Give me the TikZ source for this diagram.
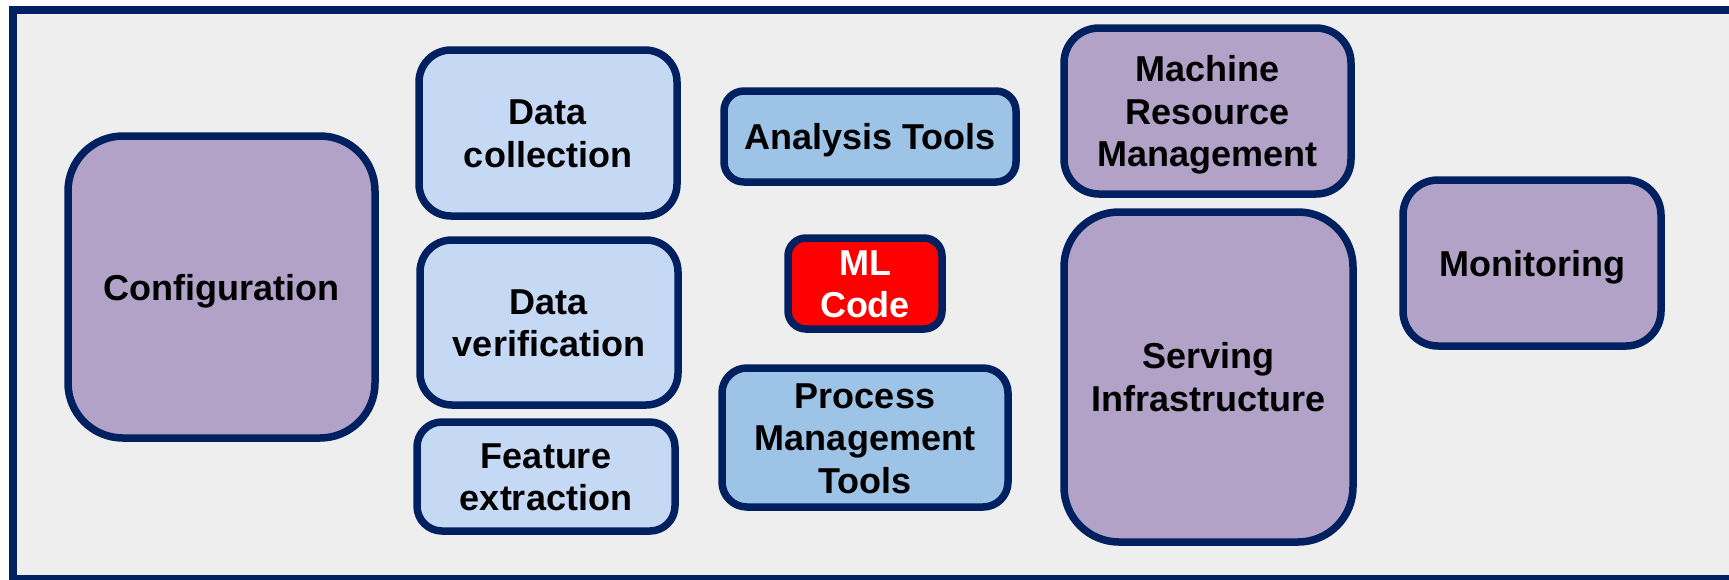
\documentclass[tikz,border=0pt]{standalone}
\usepackage{fontspec}
\setmainfont{Liberation Sans}
\definecolor{navy}{HTML}{002060}
\definecolor{panel}{HTML}{EEEEEE}
\definecolor{paleblue}{HTML}{C6D9F4}
\definecolor{midblue}{HTML}{9DC3E6}
\definecolor{lilac}{HTML}{B2A2C7}
% centred lines of a label, baseline on the first line
\newcommand\boxlines[1]{\begin{tabular}[t]{@{}c@{}}#1\end{tabular}}
\tikzset{
  box/.style={draw=navy, line width=7.5pt, inner sep=0pt,
    font=\bfseries\fontsize{36}{42.5}\selectfont, text=black},
  oneline/.style={text height=26.4pt, text depth=0pt},
  twolines/.style={text height=0pt, text depth=16.1pt},
  threelines/.style={text height=0pt, text depth=58.6pt},
  databox/.style={box, fill=paleblue},
  toolbox/.style={box, fill=midblue},
  infrabox/.style={box, fill=lilac},
  codebox/.style={box, fill=red, text=white}
}
\begin{document}
\begin{tikzpicture}[x=1pt, y=-1pt]
  \useasboundingbox (0,0) rectangle (1729,579);
  \clip (0,0) rectangle (1729,579);
  % outer panel
  \draw[draw=navy, line width=8pt, fill=panel] (13,10) rectangle (1780,579);

  % left column
  \node[infrabox, oneline, rounded corners=55pt, minimum width=307pt, minimum height=302pt]
    (config) at (221.5,287) {Configuration};
  \node[databox, twolines, rounded corners=32pt, minimum width=258pt, minimum height=166pt]
    (collect) at (548,133) {\boxlines{Data\\collection}};
  \node[databox, twolines, rounded corners=32pt, minimum width=258pt, minimum height=165pt]
    (verify) at (549,322.5) {\boxlines{Data\\verification}};
  \node[databox, twolines, rounded corners=25pt, minimum width=258pt, minimum height=109pt]
    (feature) at (546,476.5) {\boxlines{Feature\\extraction}};

  % middle column
  \node[toolbox, oneline, rounded corners=20pt, minimum width=292pt, minimum height=91pt]
    (analysis) at (870,136.5) {Analysis Tools};
  \node[codebox, twolines, rounded corners=18pt, minimum width=154pt, minimum height=91pt]
    (mlcode) at (865,283.5) {\boxlines{ML\\Code}};
  \node[toolbox, threelines, rounded corners=25pt, minimum width=286pt, minimum height=139pt]
    (process) at (865,437.5) {\boxlines{Process\\Management\\Tools}};

  % right column
  \node[infrabox, threelines, rounded corners=35pt, minimum width=287pt, minimum height=166pt]
    (machine) at (1207.5,111) {\boxlines{Machine\\Resource\\Management}};
  \node[infrabox, twolines, rounded corners=55pt, minimum width=289pt, minimum height=330pt]
    (serving) at (1208.5,377) {\boxlines{Serving\\Infrastructure}};
  \node[infrabox, oneline, rounded corners=35pt, minimum width=258pt, minimum height=166pt]
    (monitor) at (1532,263) {Monitoring};
\end{tikzpicture}
\end{document}
